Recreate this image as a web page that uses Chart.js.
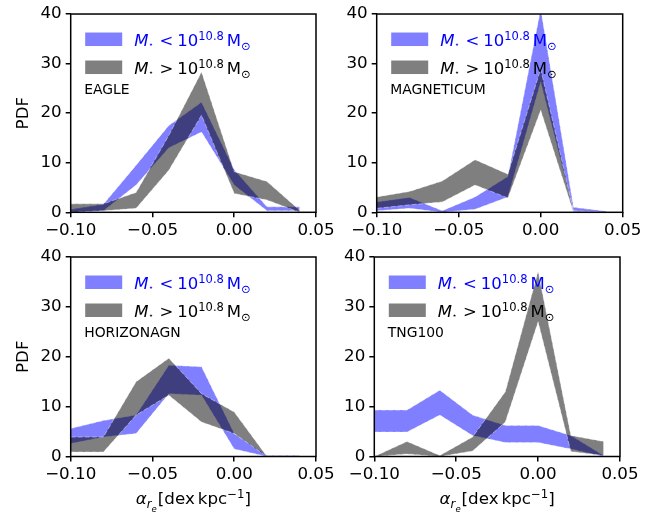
<!DOCTYPE html>
<html>
<head>
<meta charset="utf-8">
<script src="https://cdn.jsdelivr.net/npm/chart.js@4.4.1/dist/chart.umd.min.js"></script>
<style>
  html, body { margin: 0; padding: 0; background: #fff; }
  #fig { position: relative; width: 655px; height: 515px; }
  #fig canvas { position: absolute; left: 0; top: 0; }
</style>
</head>
<body>
<div id="fig">
  <canvas id="eagle" width="655" height="515"></canvas>
  <canvas id="magneticum" width="655" height="515"></canvas>
  <canvas id="horizon" width="655" height="515"></canvas>
  <canvas id="tng" width="655" height="515"></canvas>
</div>
<script>
// slope values (x) shared by all panels
const xVals = [-0.10, -0.08, -0.06, -0.04, -0.02, 0.00, 0.02, 0.04];
const xTicks = [-0.10, -0.05, 0.00, 0.05];
const yTicks = [0, 10, 20, 30, 40];

// EAGLE
const eagleBlueLo = [0, 0.3, 5.5, 13.0, 16.2, 5.5, 0.3, 0.3];
const eagleBlueHi = [0.6, 1.6, 9.5, 17.5, 22.2, 8.6, 1.1, 1.1];
const eagleGrayLo = [0, 0.3, 0.8, 8.5, 19.6, 3.8, 2.5, 0];
const eagleGrayHi = [1.7, 1.7, 4.0, 15.5, 28.3, 8.2, 6.2, 0.4];

// MAGNETICUM
const magBlueLo = [0.3, 0.8, 0, 0.6, 3.1, 26.3, 0.3, 0];
const magBlueHi = [2.1, 3.0, 0.3, 3.1, 7.2, 41.0, 1.0, 0.2];
const magGrayLo = [0.8, 1.5, 2.1, 5.5, 2.9, 20.6, 0, 0];
const magGrayHi = [3.1, 4.2, 6.3, 10.6, 7.7, 28.9, 0.2, 0];

// HORIZONAGN
const horBlueLo = [2.6, 3.9, 4.6, 12.6, 12.3, 1.5, 0, 0];
const horBlueHi = [5.6, 7.2, 8.3, 18.3, 18.0, 4.6, 0.2, 0.2];
const horGrayLo = [0.9, 0.9, 8.3, 12.3, 6.9, 4.6, 0, 0];
const horGrayHi = [3.9, 3.9, 15.0, 19.7, 12.6, 8.9, 0, 0];

// TNG100
const tngBlueLo = [4.9, 4.9, 8.3, 4.2, 2.8, 2.8, 1.5, 0];
const tngBlueHi = [9.3, 9.3, 13.3, 8.3, 6.2, 6.2, 4.2, 0.2];
const tngGrayLo = [0, 0.5, 0, 1.1, 6.9, 27.0, 1.0, 0.2];
const tngGrayHi = [0, 3.0, 0.2, 3.9, 13.0, 37.1, 4.2, 3.0];

const BLUE = 'rgba(0,0,255,0.5)';
const GRAY = 'rgba(0,0,0,0.5)';
const EDGE = 'rgba(255,255,255,0.5)';
const FONT = '"DejaVu Sans"';
const YW = 60, XH = 40; // fixed axis sizes, so the plot areas land where they should

function pts(arr) {
  return xVals.map((x, i) => ({ x: x, y: arr[i] }));
}

function band(lo, hi, color) {
  return [
    { data: pts(lo), borderColor: EDGE, borderWidth: 0.8, borderDash: [5, 2], pointRadius: 0, fill: false },
    { data: pts(hi), borderColor: EDGE, borderWidth: 0.8, borderDash: [5, 2], pointRadius: 0, fill: '-1', backgroundColor: color }
  ];
}

function fmtX(v) {
  return (v < -1e-9 ? '\u2212' : '') + Math.abs(v).toFixed(2);
}

// draws a run of text pieces (for the bits of math)
function drawRuns(ctx, runs, x, y, center) {
  let w = 0;
  runs.forEach(r => {
    ctx.font = r.f;
    r.w = ctx.measureText(r.t).width + (r.g || 0);
    w += r.w + (r.pre || 0);
  });
  let cx = center ? x - w / 2 : x;
  runs.forEach(r => {
    cx += r.pre || 0;
    ctx.font = r.f;
    ctx.fillText(r.t, cx, y + (r.dy || 0));
    cx += r.w;
  });
}

function legendRuns(sign) {
  return [
    { t: 'M', f: 'italic 16.5px ' + FONT },
    { t: '\u22C6', f: '8px ' + FONT, dy: 1, g: 6 },
    { t: sign, f: '16.5px ' + FONT, g: 4 },
    { t: '10', f: '16.5px ' + FONT },
    { t: '10.8', f: '11.5px ' + FONT, dy: -6, g: 3 },
    { t: 'M', f: '16.5px ' + FONT },
    { t: '\u2299', f: '11.5px ' + FONT, dy: 4 }
  ];
}

const deco = {
  id: 'deco',
  afterDraw(chart, args, o) {
    const ctx = chart.ctx, a = chart.chartArea;
    ctx.save();
    // frame
    ctx.strokeStyle = '#000';
    ctx.lineWidth = 1.5;
    ctx.strokeRect(a.left, a.top, a.right - a.left, a.bottom - a.top);

    // legend
    const px = a.left + 14.5;
    ctx.fillStyle = BLUE;
    ctx.fillRect(px, a.top + 18.5, 37, 13.5);
    ctx.fillStyle = GRAY;
    ctx.fillRect(px, a.top + 46.5, 37, 13.5);
    ctx.textAlign = 'left';
    ctx.textBaseline = 'alphabetic';
    ctx.fillStyle = '#0000ff';
    drawRuns(ctx, legendRuns('<'), a.left + 63.5, a.top + 31.5, false);
    ctx.fillStyle = '#000';
    drawRuns(ctx, legendRuns('>'), a.left + 63.5, a.top + 59.5, false);

    // simulation name
    ctx.font = '13.9px ' + FONT;
    ctx.fillText(o.name, a.left + 13.5, a.top + 80);

    if (o.ylabel) {
      ctx.save();
      ctx.translate(27.5, (a.top + a.bottom) / 2);
      ctx.rotate(-Math.PI / 2);
      ctx.textAlign = 'center';
      ctx.font = '16.7px ' + FONT;
      ctx.fillText('PDF', 0, 0);
      ctx.restore();
    }
    if (o.xlabel) {
      ctx.textAlign = 'left';
      drawRuns(ctx, [
        { t: '\u03B1', f: 'italic 16.7px ' + FONT },
        { t: 'r', f: 'italic 11.7px ' + FONT, dy: 3.5 },
        { t: 'e', f: 'italic 8.5px ' + FONT, dy: 7.5, g: 1 },
        { t: '[dex', f: '16.7px ' + FONT, g: 3 },
        { t: 'kpc', f: '16.7px ' + FONT },
        { t: '\u22121', f: '11.7px ' + FONT, dy: -6.5 },
        { t: ']', f: '16.7px ' + FONT }
      ], (a.left + a.right) / 2, 504, true);
    }
    ctx.restore();
  }
};

function makePanel(id, p) {
  const tickFont = { family: FONT, size: 16.7 };
  return new Chart(document.getElementById(id), {
    type: 'line',
    data: { datasets: [...band(p.grayLo, p.grayHi, GRAY), ...band(p.blueLo, p.blueHi, BLUE)] },
    options: {
      responsive: false,
      animation: false,
      events: [],
      layout: { padding: { left: p.L - YW, right: 655 - p.R, top: p.T, bottom: 515 - p.B - XH } },
      plugins: {
        legend: { display: false },
        tooltip: { enabled: false },
        deco: { name: p.name, ylabel: p.ylabel, xlabel: p.xlabel }
      },
      scales: {
        x: {
          type: 'linear', min: -0.1, max: 0.05,
          afterBuildTicks: s => { s.ticks = xTicks.map(v => ({ value: v })); },
          afterFit: s => { s.height = XH; },
          ticks: { font: tickFont, color: '#000', padding: 3, maxRotation: 0, callback: v => fmtX(v) },
          grid: { drawOnChartArea: false, drawTicks: true, tickLength: 5, lineWidth: 1.5, color: '#000' },
          border: { display: false }
        },
        y: {
          min: 0, max: 40,
          afterBuildTicks: s => { s.ticks = yTicks.map(v => ({ value: v })); },
          afterFit: s => { s.width = YW; },
          ticks: { font: tickFont, color: '#000', padding: 4, callback: v => String(v) },
          grid: { drawOnChartArea: false, drawTicks: true, tickLength: 5, lineWidth: 1.5, color: '#000' },
          border: { display: false }
        }
      }
    },
    plugins: [deco]
  });
}

makePanel('eagle', { name: 'EAGLE', L: 70.7, R: 316, T: 13.3, B: 212.3, ylabel: true,
  blueLo: eagleBlueLo, blueHi: eagleBlueHi, grayLo: eagleGrayLo, grayHi: eagleGrayHi });
makePanel('magneticum', { name: 'MAGNETICUM', L: 376.7, R: 622.7, T: 13.3, B: 212.3,
  blueLo: magBlueLo, blueHi: magBlueHi, grayLo: magGrayLo, grayHi: magGrayHi });
makePanel('horizon', { name: 'HORIZONAGN', L: 70.7, R: 316, T: 257, B: 456.5, ylabel: true, xlabel: true,
  blueLo: horBlueLo, blueHi: horBlueHi, grayLo: horGrayLo, grayHi: horGrayHi });
makePanel('tng', { name: 'TNG100', L: 374.3, R: 620, T: 257, B: 456.5, xlabel: true,
  blueLo: tngBlueLo, blueHi: tngBlueHi, grayLo: tngGrayLo, grayHi: tngGrayHi });
</script>
</body>
</html>
